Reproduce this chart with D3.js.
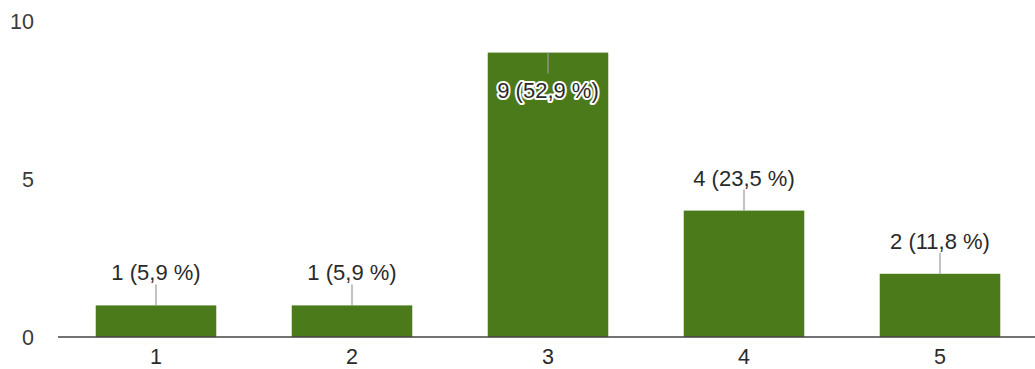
<!DOCTYPE html>
<html><head><meta charset="utf-8">
<script src="https://cdn.jsdelivr.net/npm/d3@7"></script>
<style>body{margin:0;background:#fff}svg{display:block}text{font-family:"Liberation Sans",Arial,sans-serif}</style>
</head><body><svg id="c" width="1035" height="369"></svg>
<script>
const categories = ["1","2","3","4","5"];
const values = [1,1,9,4,2];
const labels = ["1 (5,9 %)","1 (5,9 %)","9 (52,9 %)","4 (23,5 %)","2 (11,8 %)"];
const yTicks = [0,5,10];

const svg = d3.select("#c");
const x = d3.scaleBand().domain(categories).range([58,1038]).paddingInner(0.385).paddingOuter(0.1925);
const y = d3.scaleLinear().domain([0,10]).range([337,21]);

svg.selectAll(".yt").data(yTicks).enter().append("text")
  .attr("x",34).attr("y",d=>y(d)).attr("dy","0.36em").attr("text-anchor","end")
  .attr("font-size",21.5).attr("fill","#3a3a3a").text(d=>d);

svg.selectAll(".bar").data(values).enter().append("rect")
  .attr("x",(d,i)=>x(categories[i])).attr("width",x.bandwidth())
  .attr("y",d=>y(d)).attr("height",d=>y(0)-y(d)).attr("fill","#4a7a1a");

svg.append("line").attr("x1",58).attr("x2",1035).attr("y1",y(0)).attr("y2",y(0))
  .attr("stroke","#444").attr("stroke-width",1.5);

svg.selectAll(".xt").data(categories).enter().append("text")
  .attr("x",d=>x(d)+x.bandwidth()/2).attr("y",364).attr("text-anchor","middle")
  .attr("font-size",21.5).attr("fill","#2a2a2a").text(d=>d);

values.forEach((v,i)=>{
  const cx = x(categories[i])+x.bandwidth()/2;
  const top = y(v);
  const inside = v>=9;
  if(!inside){
    svg.append("line").attr("x1",cx).attr("x2",cx).attr("y1",top-21).attr("y2",top)
      .attr("stroke","#999").attr("stroke-width",1.2);
    svg.append("text").attr("x",cx).attr("y",top-25).attr("text-anchor","middle")
      .attr("font-size",22).attr("fill","#2a2a2a").text(labels[i]);
  } else {
    svg.append("line").attr("x1",cx).attr("x2",cx).attr("y1",top).attr("y2",top+21)
      .attr("stroke","#999").attr("stroke-width",1.2);
    svg.append("text").attr("x",cx).attr("y",top+45).attr("text-anchor","middle")
      .attr("font-size",22).attr("fill","#2a2a2a").attr("stroke","#fff").attr("stroke-width",4)
      .attr("paint-order","stroke").attr("stroke-linejoin","round").text(labels[i]);
  }
});
</script></body></html>
